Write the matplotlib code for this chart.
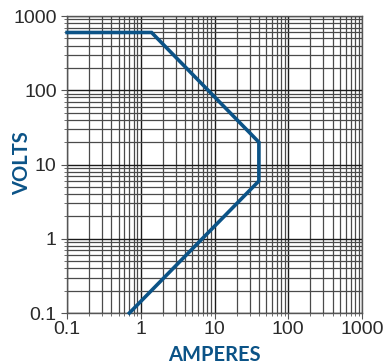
import matplotlib
matplotlib.use('Agg')
import matplotlib.pyplot as plt
from matplotlib.ticker import LogLocator, NullFormatter, FixedLocator, FixedFormatter

# curve corner points (amperes, volts)
amps = [0.1, 1.4, 40, 40, 0.7]
volts = [600, 600, 20, 6, 0.1]

tick_vals = [0.1, 1, 10, 100, 1000]
tick_labels = ['0.1', '1', '10', '100', '1000']

blue = '#0b5387'

fig = plt.figure(figsize=(3.9, 3.64), dpi=100)
ax = fig.add_axes([0.172, 0.140, 0.756, 0.816])

ax.plot(amps, volts, color=blue, lw=2.6, solid_joinstyle='miter', zorder=3, clip_on=False)

ax.set_xscale('log')
ax.set_yscale('log')
ax.set_xlim(0.1, 1000)
ax.set_ylim(0.1, 1000)

for axis in (ax.xaxis, ax.yaxis):
    axis.set_major_locator(FixedLocator(tick_vals))
    axis.set_major_formatter(FixedFormatter(tick_labels))
    axis.set_minor_locator(LogLocator(base=10, subs=range(2, 10)))
    axis.set_minor_formatter(NullFormatter())

ax.grid(True, which='major', color='#1a1a1a', lw=1.0)
ax.grid(True, which='minor', color='#4a4a4a', lw=0.9)

for s in ax.spines.values():
    s.set_color('#555555')
    s.set_linewidth(1.0)

ax.tick_params(axis='both', which='major', labelsize=14, length=4, color='#555555',
               labelcolor='#2a2a2a', width=0.8)
ax.tick_params(axis='both', which='minor', length=2, color='#555555', width=0.6)
ax.tick_params(axis='x', pad=2)
for lab in ax.get_xticklabels() + ax.get_yticklabels():
    lab.set_family('Liberation Sans')

ax.set_xlabel('AMPERES', fontsize=14.5, fontweight='bold', color=blue, family='Lato')
ax.set_ylabel('VOLTS', fontsize=14.5, fontweight='bold', color=blue, family='Lato')
ax.xaxis.set_label_coords(0.5, -0.141)
ax.yaxis.set_label_coords(-0.153, 0.505)
ax.xaxis.label.set_va('center')
ax.yaxis.label.set_va('center')

fig.savefig('out.png', dpi=100)
